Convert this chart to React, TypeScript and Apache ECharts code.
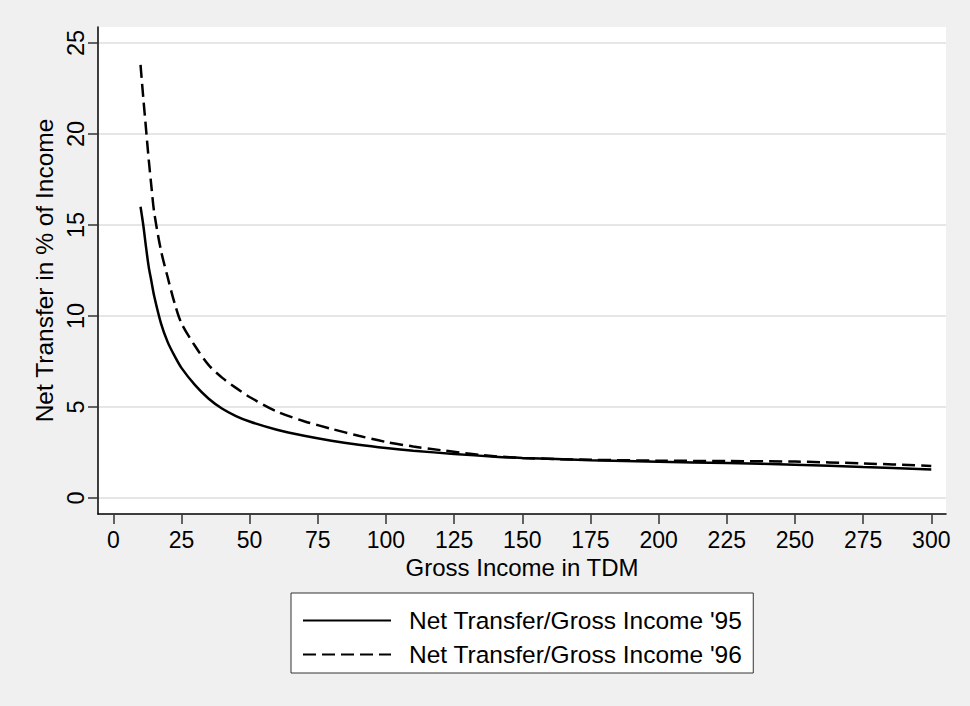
import React, { useEffect, useRef } from "react";
import * as echarts from "echarts";

const xTicks = [0, 25, 50, 75, 100, 125, 150, 175, 200, 225, 250, 275, 300];
const yTicks = [0, 5, 10, 15, 20, 25];

const seriesNames = ["Net Transfer/Gross Income '95", "Net Transfer/Gross Income '96"];

const income95 = [10, 11, 12, 13, 14, 15, 17.5, 20, 22.5, 25, 30, 35, 40, 45, 50, 60, 70, 80, 90, 100, 110, 125, 140, 150, 175, 200, 225, 250, 275, 300];
const transfer95 = [16.0, 15.0, 13.8, 12.7, 11.9, 11.1, 9.6, 8.55, 7.8, 7.15, 6.2, 5.45, 4.9, 4.5, 4.2, 3.75, 3.42, 3.15, 2.93, 2.75, 2.6, 2.42, 2.27, 2.2, 2.08, 1.99, 1.92, 1.83, 1.7, 1.57];

const income96 = [10, 11, 12, 13, 14, 15, 17.5, 20, 22.5, 25, 30, 35, 40, 45, 50, 60, 70, 80, 90, 100, 110, 120, 135, 150, 175, 200, 225, 250, 275, 300];
const transfer96 = [23.8, 22.0, 20.3, 18.6, 17.1, 15.7, 13.6, 12.1, 10.7, 9.6, 8.35, 7.3, 6.6, 6.05, 5.55, 4.75, 4.22, 3.8, 3.42, 3.08, 2.83, 2.63, 2.36, 2.2, 2.1, 2.05, 2.03, 2.0, 1.9, 1.76];

const FONT = "'Liberation Sans', Arial, Helvetica, sans-serif";

export default function App() {
  const ref = useRef<HTMLDivElement>(null);
  useEffect(() => {
    if (!ref.current) return;
    const chart = echarts.init(ref.current, null, { renderer: "svg" });
    const pairs = (xs: number[], ys: number[]) => xs.map((x, i) => [x, ys[i]]);
    chart.setOption({
      animation: false,
      backgroundColor: "#f0f0f0",
      textStyle: { fontFamily: FONT },
      grid: {
        left: 98,
        right: 24,
        top: 27,
        bottom: 192,
        show: true,
        backgroundColor: "#ffffff",
        borderWidth: 0,
      },
      legend: {
        left: 291,
        top: 593,
        orient: "vertical",
        backgroundColor: "#ffffff",
        borderColor: "#333333",
        borderWidth: 1,
        borderRadius: 0,
        padding: [15, 11, 6, 11],
        itemWidth: 88,
        itemHeight: 14,
        itemGap: 9,
        itemStyle: { opacity: 0, borderWidth: 0 },
        textStyle: {
          fontFamily: FONT,
          fontSize: 24.5,
          color: "#000",
          padding: [0, 0, 0, 13],
        },
        data: seriesNames,
      },
      xAxis: {
        type: "value",
        min: -5.6,
        max: 305.4,
        name: "Gross Income in TDM",
        nameLocation: "middle",
        nameGap: 41,
        nameMoveOverlap: false,
        nameTextStyle: { fontFamily: FONT, fontSize: 24, color: "#000", verticalAlign: "top", lineHeight: 24 },
        axisLine: { show: true, onZero: false, lineStyle: { color: "#000", width: 1.5 } },
        axisTick: { show: true, length: 10, customValues: xTicks, lineStyle: { color: "#333", width: 1.5 } },
        axisLabel: { customValues: xTicks, margin: 14, fontFamily: FONT, fontSize: 23, lineHeight: 24, color: "#000" },
        splitLine: { show: false },
      },
      yAxis: {
        type: "value",
        min: -0.88,
        max: 25.88,
        name: "Net Transfer in % of Income",
        nameLocation: "middle",
        nameRotate: 90,
        nameGap: 41,
        nameMoveOverlap: false,
        nameTextStyle: { fontFamily: FONT, fontSize: 24.5, color: "#000" },
        axisLine: { show: true, onZero: false, lineStyle: { color: "#000", width: 1.5 } },
        axisTick: { show: true, length: 10, customValues: yTicks, lineStyle: { color: "#333", width: 1.5 } },
        axisLabel: { customValues: yTicks, rotate: 90, margin: 10, fontFamily: FONT, fontSize: 23.5, color: "#000" },
        splitLine: { show: true, lineStyle: { color: "#e6e6e6", width: 2 } },
      },
      series: [
        {
          name: seriesNames[0],
          type: "line",
          data: pairs(income95, transfer95),
          symbol: "none",
          smooth: 0.3,
          lineStyle: { color: "#000", width: 2.5, type: "solid" },
          itemStyle: { color: "#000" },
        },
        {
          name: seriesNames[1],
          type: "line",
          data: pairs(income96, transfer96),
          symbol: "none",
          smooth: 0.3,
          lineStyle: { color: "#000", width: 2.5, type: [13, 6] },
          itemStyle: { color: "#000" },
        },
      ],
    });
    return () => chart.dispose();
  }, []);
  return (
    <div
      ref={ref}
      style={{ position: "fixed", left: 0, top: 0, width: 970, height: 706 }}
    />
  );
}
